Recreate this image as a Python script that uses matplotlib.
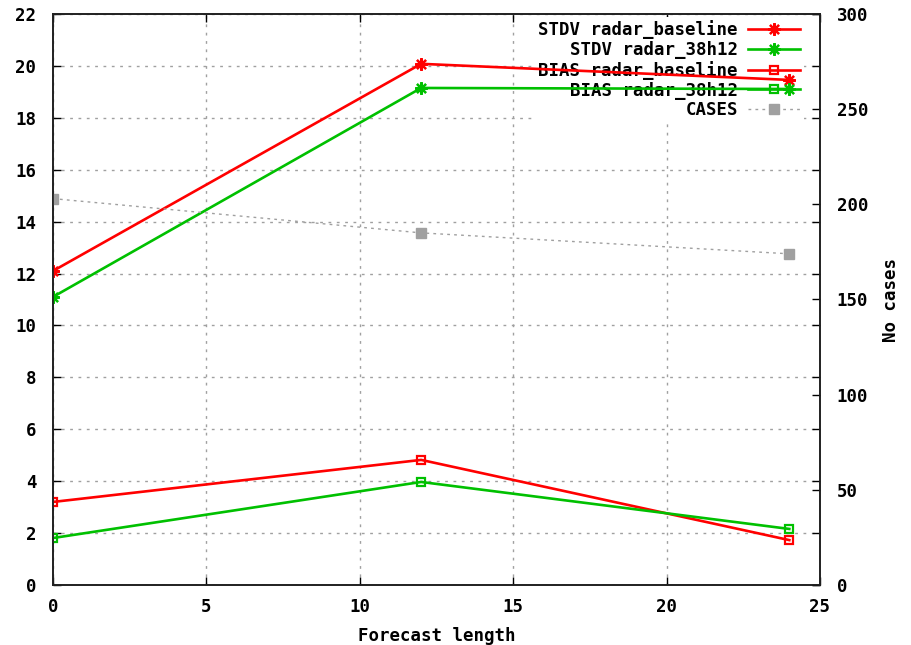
import matplotlib
matplotlib.use("Agg")
import matplotlib.pyplot as plt

# forecast lengths (h)
lengths = [0, 12, 24]

# STDV / BIAS for both experiments
stdv_baseline = [12.1, 20.08, 19.46]
stdv_38h12 = [11.1, 19.15, 19.11]
bias_baseline = [3.2, 4.82, 1.73]
bias_38h12 = [1.81, 3.97, 2.16]

# number of cases (right axis)
cases = [203, 185, 174]

RED = "#ff0000"
GREEN = "#00c000"
GREY = "#a0a0a0"
FS = 12.5

plt.rcParams["font.family"] = ["DejaVu Sans Mono"]
plt.rcParams["font.weight"] = "bold"

fig = plt.figure(figsize=(9.11, 6.45), dpi=100)
ax = fig.add_axes([53 / 911, 60 / 645, (820 - 53) / 911, (585 - 14) / 645])
ax2 = ax.twinx()

star = (8, 2, 0)
l1, = ax.plot(lengths, stdv_baseline, color=RED, lw=1.9, marker=star, ms=9, mew=1.6,
              label="STDV radar_baseline", zorder=3)
l2, = ax.plot(lengths, stdv_38h12, color=GREEN, lw=1.9, marker=star, ms=9, mew=1.6,
              label="STDV radar_38h12", zorder=3)
l3, = ax.plot(lengths, bias_baseline, color=RED, lw=1.9, marker="s", ms=6, mew=1.6,
              mfc="none", label="BIAS radar_baseline", zorder=3)
l4, = ax.plot(lengths, bias_38h12, color=GREEN, lw=1.9, marker="s", ms=6, mew=1.6,
              mfc="none", label="BIAS radar_38h12", zorder=3)
l5, = ax2.plot(lengths, cases, color=GREY, lw=1, ls=(0, (2, 3)), marker="s", ms=7,
               label="CASES")

ax.set_xlim(0, 25)
ax.set_ylim(0, 22)
ax.set_xticks(range(0, 26, 5))
ax.set_yticks(range(0, 23, 2))
ax2.set_ylim(0, 300)
ax2.set_yticks(range(0, 301, 50))

ax.grid(True, color=GREY, ls=(0, (2, 4)), lw=1, zorder=0)
ax.set_axisbelow(True)

ax.tick_params(direction="in", length=6, width=1, labelsize=FS, top=True, right=True)
ax.tick_params(axis="y", pad=12)
ax.tick_params(axis="x", pad=9)
ax2.tick_params(direction="in", length=6, width=1, labelsize=FS, pad=12)

for a in (ax, ax2):
    for s in a.spines.values():
        s.set_linewidth(1.2)
        s.set_color("#202020")

ax.set_xlabel("Forecast length", fontsize=FS, fontweight="bold", labelpad=8)
ax2.set_ylabel("No cases", fontsize=FS, fontweight="bold", labelpad=10)

leg = ax.legend([l1, l2, l3, l4, l5], [h.get_label() for h in (l1, l2, l3, l4, l5)],
                loc="upper right", bbox_to_anchor=(0.979, 0.995), markerfirst=False,
                frameon=True, fancybox=False, edgecolor="none", facecolor="white",
                framealpha=1, fontsize=FS, handlelength=3.0, handletextpad=0.6,
                labelspacing=0.1, borderpad=0.2, borderaxespad=0)
leg.set_zorder(2)
for t in leg.get_texts():
    t.set_ha("right")

fig.savefig("out.png", dpi=100)
